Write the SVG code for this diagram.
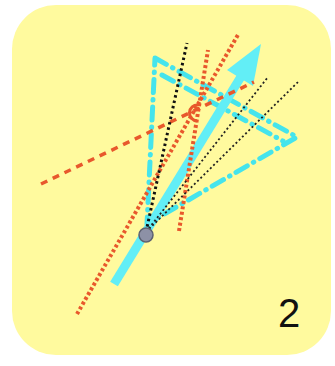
<svg xmlns="http://www.w3.org/2000/svg" width="335" height="366" viewBox="0 0 335 366">
  <style>
    .cyan-dd { fill: none; stroke: #45e4ec; stroke-width: 5; stroke-linecap: round; stroke-linejoin: round; stroke-dasharray: 13 7 0.5 7; }
    .red-dash { fill: none; stroke: #e8582c; stroke-width: 3.5; stroke-dasharray: 7 6; }
    .red-dot { fill: none; stroke: #e8582c; stroke-width: 4; stroke-dasharray: 3 2.5; }
    .blk-dot { fill: none; stroke: #111; stroke-width: 3; stroke-dasharray: 2.5 3; }
    .blk-thin { fill: none; stroke: #222; stroke-width: 1.8; stroke-dasharray: 2 2.5; }
    .label { font-family: "Liberation Sans", Arial, sans-serif; font-size: 40px; fill: #111; }
  </style>
  <rect id="background" x="12" y="5" width="319" height="350" rx="44" ry="44" fill="#fffa9e"/>
  <g id="triangle">
    <polygon class="cyan-dd" points="155,58 297,137 147,224"/>
    <line class="cyan-dd" x1="162" y1="75" x2="283" y2="141"/>
  </g>
  <g id="arrow">
    <line x1="114" y1="284" x2="242" y2="75" stroke="#62eef6" stroke-width="9"/>
    <polygon points="261,44 253,86 227,70" fill="#62eef6"/>
  </g>
  <g id="connectors">
    <line class="red-dash" x1="41" y1="184" x2="254" y2="82"/>
    <line class="red-dot" x1="77" y1="314" x2="239" y2="33"/>
    <line class="red-dot" x1="179" y1="231" x2="208" y2="50"/>
    <path d="M198,105 A8,8 0 0 0 197,121" fill="none" stroke="#e8582c" stroke-width="3"/>
    <line class="blk-dot" x1="146" y1="232" x2="187" y2="43"/>
    <line class="blk-thin" x1="146" y1="232" x2="268" y2="77"/>
    <line class="blk-thin" x1="146" y1="232" x2="298" y2="82"/>
  </g>
  <g id="point">
    <circle cx="146" cy="235" r="7" fill="#8d91a6" stroke="#5c6070" stroke-width="1.5"/>
  </g>
  <text class="label" x="278" y="327">2</text>
</svg>
